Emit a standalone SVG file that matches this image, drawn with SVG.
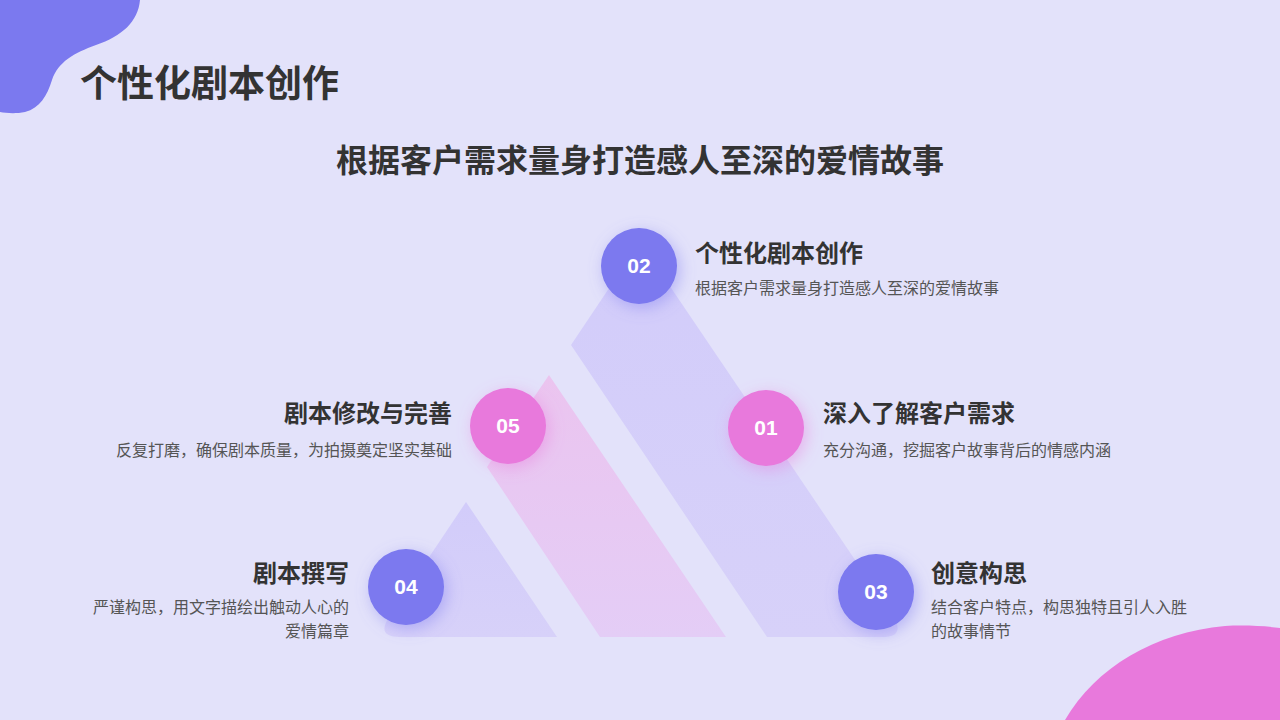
<svg xmlns="http://www.w3.org/2000/svg" width="1280" height="720" viewBox="0 0 1280 720">
<defs>
<style>
.h1{font-family:"Noto Sans CJK SC","Noto Sans",sans-serif;font-weight:700;fill:#333333}
.t{font-family:"Noto Sans CJK SC","Noto Sans",sans-serif;font-weight:700;font-size:24px;fill:#333333}
.d{font-family:"Noto Sans CJK SC","Noto Sans",sans-serif;font-size:16px;fill:#555555}
.n{font-family:"Liberation Sans","Noto Sans",sans-serif;font-weight:700;font-size:21px;fill:#ffffff;text-anchor:middle}
.cp{fill:#7B79EF;filter:url(#gp)}
.ck{fill:#E879DC;filter:url(#gk)}
.r{text-anchor:end}
</style>
<linearGradient id="gb" x1="0" y1="0" x2="0" y2="1">
<stop offset="0" stop-color="#D2CCFA"/>
<stop offset="1" stop-color="#D7D1F9"/>
</linearGradient>
<linearGradient id="gpk" x1="0" y1="0" x2="0" y2="1">
<stop offset="0" stop-color="#EBC4EF"/>
<stop offset="1" stop-color="#E4CDF6"/>
</linearGradient>
<filter id="gp" x="-60%" y="-60%" width="220%" height="220%">
<feDropShadow dx="3" dy="4" stdDeviation="8" flood-color="#7B79EF" flood-opacity="0.45"/>
</filter>
<filter id="gk" x="-60%" y="-60%" width="220%" height="220%">
<feDropShadow dx="3" dy="4" stdDeviation="8" flood-color="#E879DC" flood-opacity="0.45"/>
</filter>
</defs>
<rect x="0" y="0" width="1280" height="720" fill="#E3E2FA"/>
<g id="decor">
<path d="M0,0 L140,0 C138,22 122,36 96,45 C74,53 58,62 52,80 C47,96 40,108 25,112 C15,114 6,113 0,112 Z" fill="#7B79EF"/>
<path d="M1065,720 C1095,668 1155,632 1225,626 C1245,625 1265,626 1280,628 L1280,720 Z" fill="#E879DC"/>
</g>
<g id="heading">
<text class="h1" x="80" y="97" font-size="37">个性化剧本创作</text>
<text class="h1" x="640" y="172" font-size="32" text-anchor="middle">根据客户需求量身打造感人至深的爱情故事</text>
</g>
<g id="connectors">
<path d="M571,345 L640,242 L893,616 Q906,637 882,637 L767,637 Z" fill="url(#gb)"/>
<path d="M549,375 L726,637 L600,637 L487,467 Z" fill="url(#gpk)"/>
<path d="M466,502 L557,637 L400,637 Q376,637 389,617 Z" fill="url(#gb)"/>
</g>
<g id="node-02">
<circle class="cp" cx="639" cy="266" r="38"/>
<text class="n" x="639" y="273">02</text>
<text class="t" x="695" y="262">个性化剧本创作</text>
<text class="d" x="695" y="294">根据客户需求量身打造感人至深的爱情故事</text>
</g>
<g id="node-01">
<circle class="ck" cx="766" cy="428" r="38"/>
<text class="n" x="766" y="435">01</text>
<text class="t" x="823" y="422">深入了解客户需求</text>
<text class="d" x="823" y="456">充分沟通，挖掘客户故事背后的情感内涵</text>
</g>
<g id="node-05">
<circle class="ck" cx="508" cy="426" r="38"/>
<text class="n" x="508" y="433">05</text>
<text class="t r" x="452" y="422">剧本修改与完善</text>
<text class="d r" x="452" y="456">反复打磨，确保剧本质量，为拍摄奠定坚实基础</text>
</g>
<g id="node-04">
<circle class="cp" cx="406" cy="587" r="38"/>
<text class="n" x="406" y="594">04</text>
<text class="t r" x="349" y="582">剧本撰写</text>
<text class="d r" x="349" y="613">严谨构思，用文字描绘出触动人心的</text>
<text class="d r" x="349" y="637">爱情篇章</text>
</g>
<g id="node-03">
<circle class="cp" cx="876" cy="592" r="38"/>
<text class="n" x="876" y="599">03</text>
<text class="t" x="931" y="582">创意构思</text>
<text class="d" x="931" y="613">结合客户特点，构思独特且引人入胜</text>
<text class="d" x="931" y="637">的故事情节</text>
</g>
</svg>
